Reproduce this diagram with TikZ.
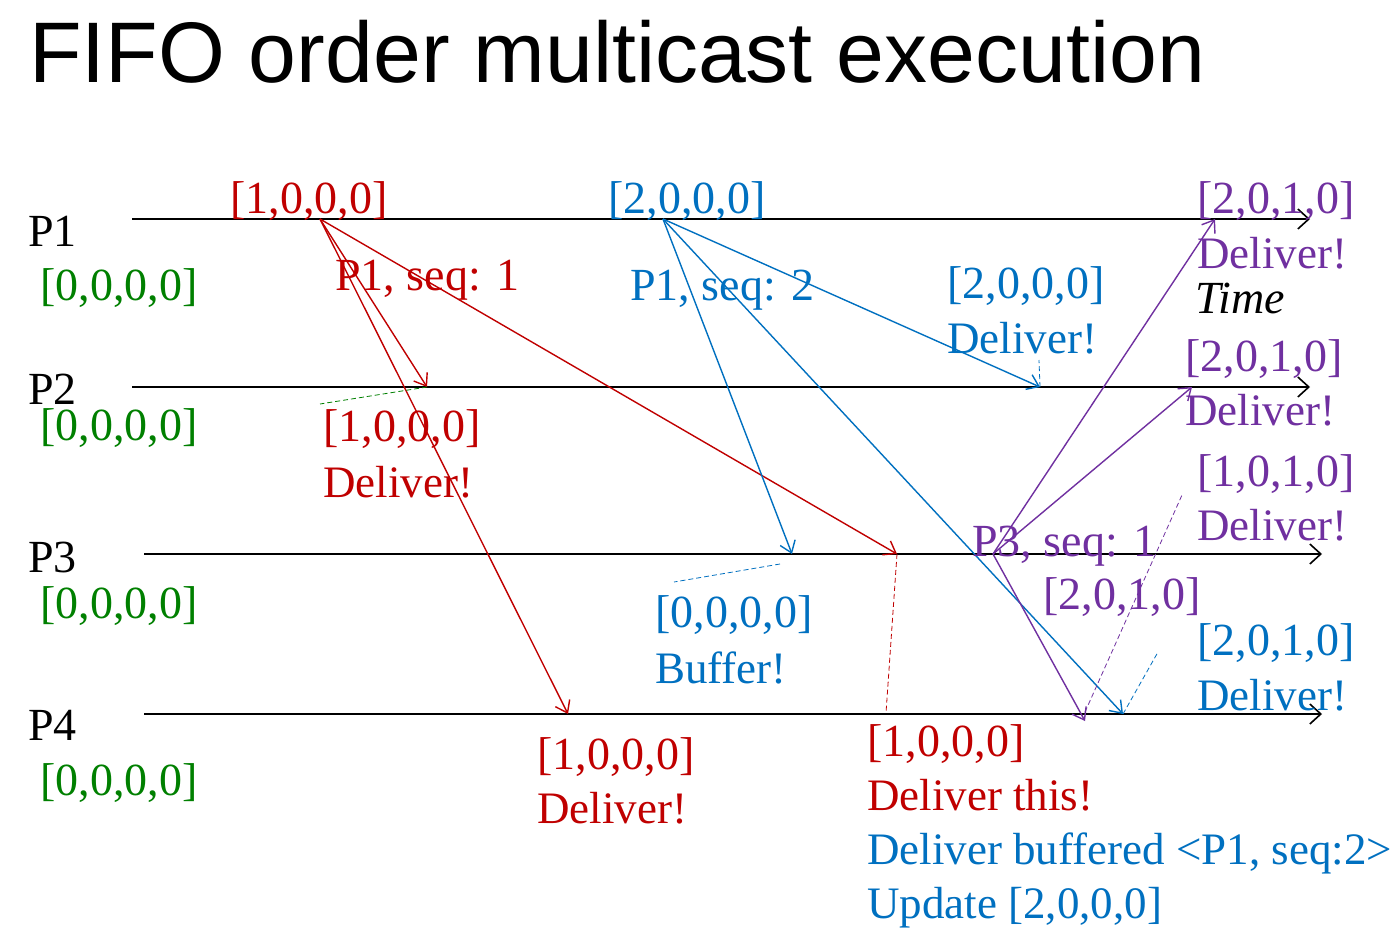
\documentclass[tikz,border=0pt]{standalone}
\usepackage{fontspec}
\setmainfont{Liberation Serif}
\newfontfamily\titlefont{Liberation Sans}
\usetikzlibrary{arrows.meta}
\definecolor{cred}{HTML}{C00000}
\definecolor{cblue}{HTML}{0070C0}
\definecolor{cpurple}{HTML}{7030A0}
\definecolor{cgreen}{HTML}{008000}
\begin{document}
\begin{tikzpicture}[x=1pt,y=-1pt,
 lbl/.style={anchor=base west, inner sep=0pt, font=\fontsize{46}{50}\selectfont},
 wlbl/.style={anchor=base west, inner sep=0pt, font=\fontsize{45}{50}\selectfont},
 tl/.style={line width=1.6pt, -{Straight Barb[length=11pt,width=20pt,line width=1.6pt]}},
 msg/.style={line width=1.4pt, -{Straight Barb[length=11pt,width=16pt,line width=1.4pt]}},
 dsh/.style={line width=0.8pt, dash pattern=on 5pt off 3pt}]
\useasboundingbox (0,0) rectangle (1397,950);
\fill[white] (0,0) rectangle (1397,950);

% title
\node[anchor=base west, inner sep=0pt, font=\titlefont\fontsize{86}{90}\selectfont] (title) at (29,82) {FIFO order multicast execution};

% timelines
\coordinate (s1) at (132,219); \coordinate (e1) at (1310,219);
\coordinate (s2) at (132,387); \coordinate (e2) at (1310,387);
\coordinate (s3) at (144,554); \coordinate (e3) at (1322,554);
\coordinate (s4) at (144,714); \coordinate (e4) at (1322,714);
\draw[tl] (s1) -- (e1);
\draw[tl] (s2) -- (e2);
\draw[tl] (s3) -- (e3);
\draw[tl] (s4) -- (e4);

% process labels
\node[lbl] (np1) at (28,246) {P1};
\node[lbl, text=cgreen] (v1) at (40,300) {[0,0,0,0]};
\node[lbl] (np2) at (28,404) {P2};
\node[lbl, text=cgreen] (v2) at (40,440) {[0,0,0,0]};
\node[lbl] (np3) at (28,572) {P3};
\node[lbl, text=cgreen] (v3) at (40,618) {[0,0,0,0]};
\node[lbl] (np4) at (28,740) {P4};
\node[lbl, text=cgreen] (v4) at (40,795) {[0,0,0,0]};

% event points
\coordinate (a1) at (320,219);
\coordinate (a2) at (427,387);
\coordinate (a3) at (897,554);
\coordinate (a4) at (568,714);
\coordinate (b1) at (663,219);
\coordinate (b2) at (1040,387);
\coordinate (b3) at (792,554);
\coordinate (b4) at (1123,714);
\coordinate (c3) at (993,554);
\coordinate (c1) at (1215,219);
\coordinate (c2) at (1192,387);
\coordinate (c4) at (1085,721);

% red messages (P1 seq 1)
\draw[msg, cred] (a1) -- (a2);
\draw[msg, cred] (a1) -- (a4);
\draw[msg, cred] (a1) -- (a3);
% blue messages (P1 seq 2)
\draw[msg, cblue] (b1) -- (b3);
\draw[msg, cblue] (b1) -- (b4);
\draw[msg, cblue] (b1) -- (b2);
% purple messages (P3 seq 1)
\draw[msg, cpurple] (c3) -- (c1);
\draw[msg, cpurple] (c3) -- (c2);
\draw[msg, cpurple] (c3) -- (c4);

% dashed pointers
\coordinate (gd) at (320,404);
\draw[dsh, cgreen] (a2) -- (gd);
\coordinate (bd3a) at (674,582); \coordinate (bd3b) at (780,564);
\draw[dsh, cblue] (bd3b) -- (bd3a);
\coordinate (rd) at (886,713);
\draw[dsh, cred] (a3) -- (rd);
\coordinate (bd2) at (1039,360);
\draw[dsh, cblue] (b2) -- (bd2);
\coordinate (bd4) at (1158,652);
\draw[dsh, cblue] (b4) -- (bd4);
\coordinate (pd) at (1182,495);
\coordinate (pd0) at (1085,712);
\draw[dsh, cpurple] (pd0) -- (pd);

% red labels
\node[lbl, text=cred] (ra) at (230,213) {[1,0,0,0]};
\node[lbl, text=cred] (rs) at (335,290) {P1, seq: 1};
\node[lbl, text=cred] (r2a) at (323,441) {[1,0,0,0]};
\node[wlbl, text=cred] (r2b) at (323,497) {Deliver!};
\node[lbl, text=cred] (r4a) at (537,769) {[1,0,0,0]};
\node[wlbl, text=cred] (r4b) at (537,823) {Deliver!};
\node[lbl, text=cred] (r3a) at (867,756) {[1,0,0,0]};
\node[wlbl, text=cred] (r3b) at (867,810) {Deliver this!};
\node[wlbl, text=cblue] (r3c) at (867,864) {Deliver buffered <P1, seq:2>};
\node[wlbl, text=cblue] (r3d) at (867,918) {Update [2,0,0,0]};

% blue labels
\node[lbl, text=cblue] (ba) at (608,213) {[2,0,0,0]};
\node[lbl, text=cblue] (bs) at (630,300) {P1, seq: 2};
\node[lbl, text=cblue] (b3a) at (655,627) {[0,0,0,0]};
\node[wlbl, text=cblue] (b3b) at (655,683) {Buffer!};
\node[lbl, text=cblue] (b2a) at (947,298) {[2,0,0,0]};
\node[wlbl, text=cblue] (b2b) at (947,353) {Deliver!};
\node[lbl, text=cblue] (b4a) at (1197,655) {[2,0,1,0]};
\node[wlbl, text=cblue] (b4b) at (1197,710) {Deliver!};

% purple labels
\node[lbl, text=cpurple] (ps) at (972,556) {P3, seq: 1};
\node[lbl, text=cpurple] (p3a) at (1043,609) {[2,0,1,0]};
\node[lbl, text=cpurple] (p4a) at (1197,486) {[1,0,1,0]};
\node[wlbl, text=cpurple] (p4b) at (1197,540) {Deliver!};
\node[lbl, text=cpurple] (p2a) at (1185,371) {[2,0,1,0]};
\node[wlbl, text=cpurple] (p2b) at (1185,425) {Deliver!};
\node[lbl, text=cpurple] (p1a) at (1197,213) {[2,0,1,0]};
\node[wlbl, text=cpurple] (p1b) at (1197,268) {Deliver!};

% time
\node[lbl] (time) at (1195,313) {\itshape Time};
\end{tikzpicture}
\end{document}
